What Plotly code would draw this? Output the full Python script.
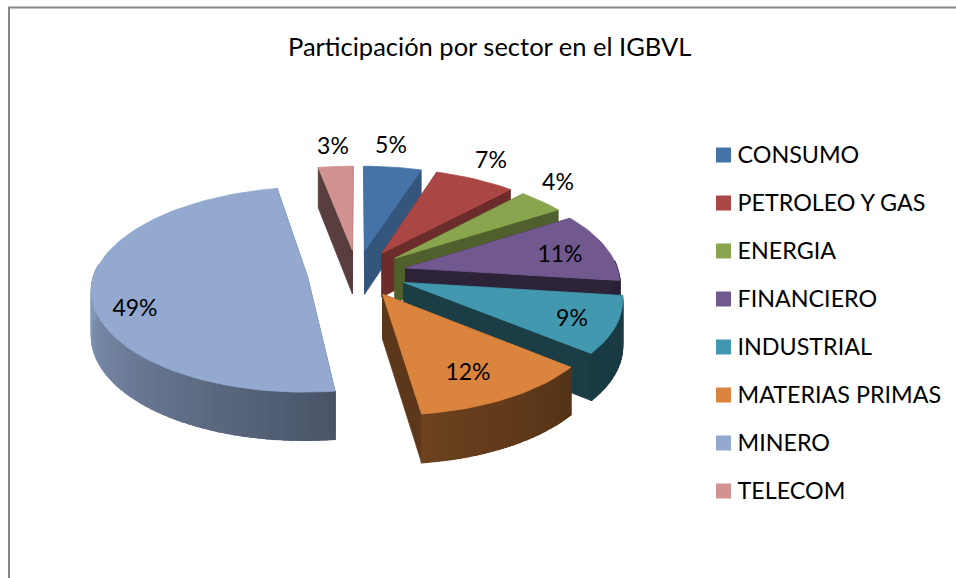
"""Exploded 3D pie of IGBVL sector weights, drawn as projected polygons."""

from __future__ import annotations

import numpy as np
import plotly.graph_objects as go

SECTORS = ["CONSUMO", "PETROLEO Y GAS", "ENERGIA", "FINANCIERO", "INDUSTRIAL", "MATERIAS PRIMAS", "MINERO", "TELECOM"]
SHARES = [5, 7, 4, 11, 9, 12, 49, 3]
SHARE_LABELS = ["5%", "7%", "4%", "11%", "9%", "12%", "49%", "3%"]
TITLE = "Participación por sector en el IGBVL"

COLORS = ["#4572A7", "#AA4643", "#89A54E", "#71588F", "#4198AF", "#DB843D", "#93A9CF", "#D19392"]
WALL_SHADE = [0.75, 0.63, 0.58, 0.40, 0.40, 0.42, 0.50, 0.42]
DRAW_ORDER = [7, 0, 1, 2, 3, 4, 5, 6]

# projection of the pie plane to page pixels
X0, Y0 = 357, 273
SCALE_X, SCALE_Y = 213, 100
PERSPECTIVE = 0.125
EXPLODE = 0.235
FRONT_SHEAR = 4.0
FONT = "Lato, sans-serif"


def project(u, v, down=False):
    w = 1 + PERSPECTIVE * v
    x = X0 + SCALE_X * u / w - FRONT_SHEAR * np.minimum(v, 0)
    y = Y0 - SCALE_Y * v / w
    if down:
        y = y + 44.5 - 3.5 * v
    return x, y


def shade(color, factor):
    r, g, b = (int(color[i:i + 2], 16) for i in (1, 3, 5))
    return f"rgb({r * factor:.0f},{g * factor:.0f},{b * factor:.0f})"


def polygon(fig, x, y, color, width=0.8):
    fig.add_trace(
        go.Scatter(
            x=list(x) + [x[0]],
            y=list(y) + [y[0]],
            mode="lines",
            fill="toself",
            fillcolor=color,
            line=dict(color=color, width=width),
            hoverinfo="skip",
            showlegend=False,
        )
    )


def rim_factor(deg):
    return float(np.interp(deg, [97, 130, 173, 270], [0.38, 0.39, 0.50, 0.90]))


def draw_slice(fig, start, end, color, wall_factor):
    mid = np.radians((start + end) / 2)
    du, dv = EXPLODE * np.sin(mid), EXPLODE * np.cos(mid)
    angles = np.radians(np.arange(start, end, 2.0).tolist() + [end])
    rim_u = du + np.sin(angles)
    rim_v = dv + np.cos(angles)

    # radial walls
    wall = shade(color, wall_factor)
    for u, v in ((rim_u[0], rim_v[0]), (rim_u[-1], rim_v[-1])):
        xa, ya = project(np.array([du, u]), np.array([dv, v]))
        xb, yb = project(np.array([u, du]), np.array([v, dv]), down=True)
        polygon(fig, np.r_[xa, xb], np.r_[ya, yb], wall)

    # outer wall, only the part that faces the viewer, shaded by angle
    degs = np.degrees(angles)
    front = (degs >= 85) & (degs <= 275)
    if front.sum() >= 2:
        uu, vv = rim_u[front], rim_v[front]
        xa, ya = project(uu, vv)
        xb, yb = project(uu[::-1], vv[::-1], down=True)
        polygon(fig, np.r_[xa, xb], np.r_[ya, yb], shade(color, rim_factor(degs[front].mean())))
    for i in range(len(angles) - 1):
        if degs[i] < 85 or degs[i] > 275:
            continue
        uu, vv = rim_u[i:i + 2], rim_v[i:i + 2]
        xa, ya = project(uu, vv)
        xb, yb = project(uu[::-1], vv[::-1], down=True)
        polygon(fig, np.r_[xa, xb], np.r_[ya, yb], shade(color, rim_factor(degs[i])), width=1.6)

    # top face
    x, y = project(np.r_[du, rim_u], np.r_[dv, rim_v])
    polygon(fig, x, y, color)


edges = np.cumsum([0] + SHARES) * 3.6

fig = go.Figure()
for i in DRAW_ORDER:
    draw_slice(fig, edges[i], edges[i + 1], COLORS[i], WALL_SHADE[i])

# percent labels sit on top of the slices
label_x = [391, 491, 558, 560, 572, 468, 135, 333]
label_y = [147, 162, 184, 256, 320, 374, 310, 148]
fig.add_trace(
    go.Scatter(
        x=label_x,
        y=label_y,
        mode="text",
        text=SHARE_LABELS,
        textposition="middle center",
        textfont=dict(family=FONT, size=23, color="#000000"),
        hoverinfo="skip",
        showlegend=False,
    )
)

# legend column
legend_y = [155 + 48 * i for i in range(len(SECTORS))]
fig.add_trace(
    go.Scatter(
        x=[723.5] * len(SECTORS),
        y=legend_y,
        mode="markers",
        marker=dict(symbol="square", size=15, color=COLORS, line=dict(width=0)),
        hoverinfo="skip",
        showlegend=False,
    )
)
fig.add_trace(
    go.Scatter(
        x=[737.5] * len(SECTORS),
        y=[y + 2 for y in legend_y],
        mode="text",
        text=SECTORS,
        textposition="middle right",
        textfont=dict(family=FONT, size=23.3, color="#000000"),
        hoverinfo="skip",
        showlegend=False,
    )
)

fig.update_layout(
    width=956,
    height=578,
    margin=dict(l=0, r=0, t=0, b=0),
    paper_bgcolor="#FFFFFF",
    plot_bgcolor="#FFFFFF",
    showlegend=False,
    xaxis=dict(range=[0, 956], visible=False, fixedrange=True),
    yaxis=dict(range=[578, 0], visible=False, fixedrange=True),
    annotations=[
        dict(
            text=TITLE,
            x=489,
            y=46,
            xref="x",
            yref="y",
            showarrow=False,
            font=dict(family=FONT, size=25.5, color="#000000"),
        )
    ],
    shapes=[
        dict(type="line", x0=9, x1=9, y0=7, y1=578, line=dict(color="#868686", width=2)),
        dict(type="line", x0=8, x1=956, y0=7.5, y1=7.5, line=dict(color="#868686", width=2)),
    ],
)

# the page body has a default margin that would shift everything
fig.write_html(
    "out.html",
    config=dict(displayModeBar=False),
    post_script="document.body.style.margin='0';",
)
